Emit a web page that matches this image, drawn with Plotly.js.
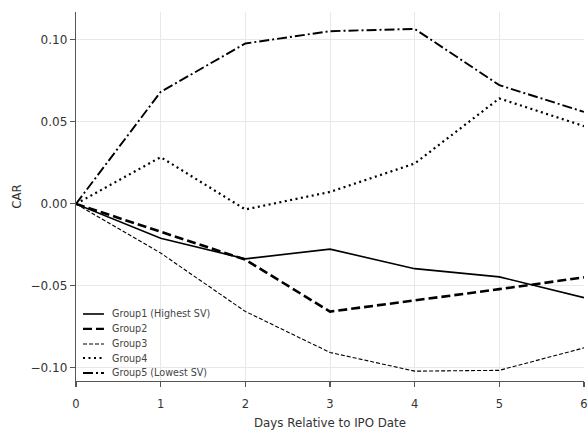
<!DOCTYPE html>
<html>
<head>
<meta charset="utf-8">
<script src="https://cdn.plot.ly/plotly-3.0.1.min.js"></script>
<style>html,body{margin:0;padding:0;background:#fff;}#chart{width:588px;height:430px;}</style>
</head>
<body>
<div id="chart"></div>
<script>
var days = [0, 1, 2, 3, 4, 5, 6];
var groupNames = ["Group1 (Highest SV)", "Group2", "Group3", "Group4", "Group5 (Lowest SV)"];
var group1 = [0, -0.021, -0.0335, -0.0276, -0.0395, -0.0445, -0.0572];
var group2 = [0, -0.017, -0.034, -0.0657, -0.059, -0.052, -0.0448];
var group3 = [0, -0.030, -0.0656, -0.0906, -0.102, -0.1015, -0.0878];
var group4 = [0, 0.0285, -0.0034, 0.0073, 0.0246, 0.0643, 0.0474];
var group5 = [0, 0.0683, 0.0978, 0.1053, 0.1067, 0.0724, 0.0561];
var xTicks = [0, 1, 2, 3, 4, 5, 6];
var yTicks = [-0.10, -0.05, 0.00, 0.05, 0.10];

var series = [group1, group2, group3, group4, group5];
var styles = [
  {width: 1.6, dash: "solid"},
  {width: 2.6, dash: "9px,4px"},
  {width: 1.1, dash: "4px,2px"},
  {width: 2.2, dash: "2px,3.5px"},
  {width: 1.9, dash: "10px,3px,2px,3px"}
];

var traces = series.map(function (ys, i) {
  return {
    x: days, y: ys, type: "scatter", mode: "lines", name: groupNames[i],
    line: {color: "#000", width: styles[i].width, dash: styles[i].dash},
    showlegend: false, hoverinfo: "skip"
  };
});

// custom compact legend (matplotlib-like)
var legRows = [0.1816, 0.141, 0.1003, 0.0623, 0.0217];
var shapes = [], annotations = [];
groupNames.forEach(function (nm, i) {
  shapes.push({type: "line", xref: "paper", yref: "paper",
    x0: 0.0138, x1: 0.055, y0: legRows[i], y1: legRows[i],
    line: {color: "#000", width: Math.min(styles[i].width, 2.2), dash: styles[i].dash}});
  annotations.push({xref: "paper", yref: "paper", x: 0.066, y: legRows[i],
    xanchor: "left", yanchor: "middle", text: nm, showarrow: false,
    font: {family: "DejaVu Sans", size: 9.6, color: "#444"}});
});

var layout = {
  width: 588, height: 430,
  margin: {l: 76, r: 4, t: 12, b: 49},
  paper_bgcolor: "#fff", plot_bgcolor: "#fff",
  font: {family: "DejaVu Sans", size: 11.5, color: "#333"},
  showlegend: false,
  xaxis: {
    range: [0, 6], tickvals: xTicks, ticktext: xTicks.map(String),
    showgrid: true, gridcolor: "#e8e8e8", gridwidth: 1,
    zeroline: false, showline: true, linecolor: "#555", linewidth: 1.3,
    ticks: "outside", ticklen: 5, tickcolor: "#555", tickwidth: 1.2,
    ticklabelstandoff: 7,
    title: {text: "Days Relative to IPO Date", standoff: 8, font: {size: 11.8, color: "#333"}},
    automargin: false, fixedrange: true
  },
  yaxis: {
    range: [-0.108, 0.117], tickvals: yTicks, tickformat: ".2f",
    showgrid: true, gridcolor: "#e8e8e8", gridwidth: 1,
    zeroline: false, showline: true, linecolor: "#555", linewidth: 1.3,
    ticks: "outside", ticklen: 5, tickcolor: "#555", tickwidth: 1.2,
    tickfont: {size: 12},
    title: {text: "CAR", standoff: 6, font: {size: 11.8, color: "#333"}},
    automargin: false, fixedrange: true
  },
  shapes: shapes,
  annotations: annotations
};

Plotly.newPlot("chart", traces, layout, {staticPlot: true, displayModeBar: false});
</script>
</body>
</html>
